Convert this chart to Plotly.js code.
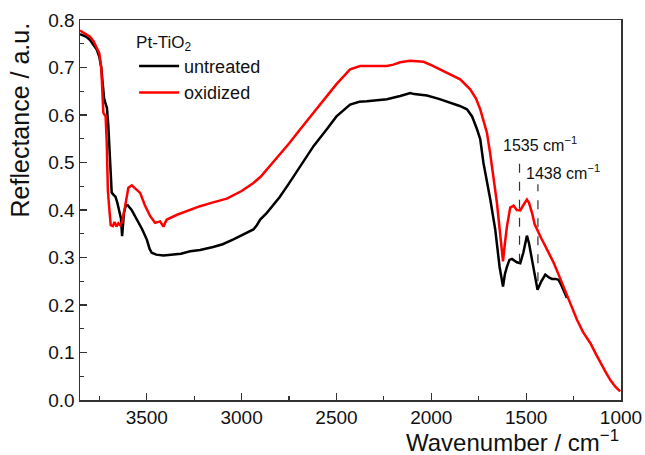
<!DOCTYPE html>
<html>
<head>
<meta charset="utf-8">
<script src="https://cdn.plot.ly/plotly-3.0.1.min.js"></script>
<style>html,body{margin:0;padding:0;background:#fff;}#chart{width:645px;height:455px;}</style>
</head>
<body>
<div id="chart"></div>
<script>
// Wavenumber (cm^-1) and reflectance values
const untreatedX = [3852,3820,3799,3780,3764,3750,3740,3732,3725,3718,3710,3703,3697,3690,3685,3675,3665,3655,3645,3636,3630,3626,3620,3610,3600,3580,3553,3525,3500,3485,3474,3450,3412,3380,3320,3271,3219,3150,3100,3043,3000,2972,2950,2938,2920,2902,2867,2800,2750,2691,2620,2551,2500,2428,2380,2340,2290,2234,2164,2130,2111,2090,2060,2023,1960,1900,1850,1812,1785,1759,1742,1725,1705,1689,1663,1654,1640,1622,1612,1601,1588,1575,1560,1549,1531,1515,1496,1485,1469,1455,1440,1420,1399,1380,1364,1345,1329,1315,1303,1285];
const untreatedY = [0.770,0.765,0.758,0.748,0.738,0.722,0.700,0.665,0.635,0.625,0.615,0.580,0.520,0.470,0.437,0.432,0.428,0.415,0.395,0.382,0.345,0.360,0.395,0.410,0.410,0.400,0.380,0.360,0.338,0.318,0.310,0.306,0.304,0.305,0.308,0.313,0.316,0.322,0.328,0.338,0.347,0.352,0.356,0.359,0.368,0.380,0.394,0.427,0.456,0.492,0.535,0.570,0.597,0.622,0.628,0.629,0.631,0.633,0.640,0.643,0.646,0.644,0.643,0.641,0.634,0.626,0.619,0.612,0.597,0.570,0.549,0.499,0.460,0.422,0.359,0.323,0.280,0.239,0.265,0.281,0.295,0.297,0.292,0.290,0.288,0.310,0.346,0.330,0.295,0.260,0.232,0.250,0.264,0.258,0.255,0.255,0.253,0.242,0.232,0.215];

const oxidizedX = [3852,3820,3799,3780,3764,3750,3740,3735,3729,3722,3717,3711,3705,3697,3690,3679,3670,3660,3650,3640,3630,3620,3605,3597,3579,3560,3535,3510,3482,3456,3430,3420,3412,3400,3394,3340,3271,3219,3150,3078,3000,2938,2900,2867,2800,2750,2691,2620,2551,2500,2428,2375,2300,2234,2200,2164,2111,2070,2041,2000,1953,1900,1848,1795,1765,1742,1707,1690,1672,1654,1645,1635,1622,1612,1601,1584,1566,1549,1531,1515,1496,1485,1469,1455,1443,1420,1408,1380,1355,1330,1303,1270,1232,1200,1162,1130,1109,1080,1056,1030,1004];
const oxidizedY = [0.778,0.770,0.765,0.755,0.742,0.730,0.700,0.660,0.605,0.600,0.598,0.540,0.440,0.400,0.368,0.366,0.375,0.365,0.372,0.368,0.375,0.395,0.430,0.447,0.452,0.445,0.436,0.410,0.387,0.373,0.376,0.370,0.365,0.376,0.380,0.390,0.400,0.408,0.416,0.424,0.440,0.457,0.470,0.485,0.515,0.540,0.570,0.605,0.640,0.665,0.696,0.703,0.703,0.703,0.706,0.711,0.714,0.713,0.712,0.705,0.696,0.686,0.675,0.654,0.635,0.612,0.563,0.520,0.471,0.415,0.380,0.340,0.292,0.330,0.366,0.405,0.409,0.400,0.399,0.410,0.422,0.415,0.394,0.370,0.359,0.340,0.331,0.310,0.289,0.265,0.239,0.205,0.169,0.143,0.120,0.095,0.078,0.058,0.042,0.028,0.018];

const seriesNames = ['untreated', 'oxidized'];
const legendTitle = 'Pt-TiO<sub>2</sub>';
const peakPositions = [1535, 1438];
const peakLabels = ['1535 cm<sup>−1</sup>', '1438 cm<sup>−1</sup>'];
const peakLineTop = [0.513, 0.454];
const peakLineBottom = [0.289, 0.250];
const xTitle = 'Wavenumber / cm<sup>−1</sup>';
const yTitle = 'Reflectance / a.u.';

const FONT = 'Liberation Sans, Arial, sans-serif';
const AX = '#333333';

const traces = [
  {x: untreatedX, y: untreatedY, name: seriesNames[0], type: 'scatter', mode: 'lines',
   line: {color: '#000000', width: 2.5}},
  {x: oxidizedX, y: oxidizedY, name: seriesNames[1], type: 'scatter', mode: 'lines',
   line: {color: '#ff0000', width: 2.5}}
];

const shapes = peakPositions.map((p, i) => ({
  type: 'line', xref: 'x', yref: 'y', x0: p, x1: p, y0: peakLineBottom[i], y1: peakLineTop[i],
  line: {color: '#333333', width: 1.2, dash: 'dash'}
}));

const labelShift = [-19, -14];
const annotations = peakPositions.map((p, i) => ({
  xref: 'x', yref: 'y', x: p, y: peakLineTop[i], xanchor: 'left', yanchor: 'bottom',
  xshift: labelShift[i], yshift: 0,
  text: peakLabels[i], showarrow: false, font: {family: FONT, size: 16, color: '#111'}
}));
annotations.push({
  xref: 'paper', yref: 'paper', x: 1, y: -0.108, xanchor: 'right', yanchor: 'middle',
  text: xTitle, showarrow: false, font: {family: FONT, size: 24, color: '#111'}
});
annotations.push({
  xref: 'paper', yref: 'paper', x: -0.111, y: 1, xanchor: 'center', yanchor: 'top',
  textangle: -90, text: yTitle, showarrow: false, font: {family: FONT, size: 25, color: '#111'}
});

const layout = {
  width: 645, height: 455,
  margin: {l: 80, r: 24, t: 20, b: 55},
  paper_bgcolor: '#ffffff', plot_bgcolor: '#ffffff',
  font: {family: FONT, color: '#111'},
  showlegend: true,
  legend: {
    x: 0.1, y: 0.985, xanchor: 'left', yanchor: 'top',
    bgcolor: 'rgba(0,0,0,0)', borderwidth: 0,
    font: {family: FONT, size: 18, color: '#111'},
    title: {text: legendTitle, font: {family: FONT, size: 17, color: '#111'}},
    itemwidth: 40, tracegroupgap: 0
  },
  xaxis: {
    range: [3852, 1000], autorange: false,
    tick0: 1000, dtick: 500, ticks: 'inside', ticklen: 7, tickwidth: 1.2, tickcolor: AX,
    minor: {dtick: 250, tick0: 1000, ticks: 'inside', ticklen: 4, tickwidth: 1.2, tickcolor: AX},
    showline: true, linecolor: AX, linewidth: 1.5, mirror: true,
    showgrid: false, zeroline: false,
    tickfont: {family: FONT, size: 19, color: '#111'}
  },
  yaxis: {
    range: [0, 0.8], autorange: false,
    tick0: 0, dtick: 0.1, tickformat: '.1f', ticks: 'inside', ticklen: 7, tickwidth: 1.2, tickcolor: AX,
    minor: {dtick: 0.05, tick0: 0, ticks: 'inside', ticklen: 4, tickwidth: 1.2, tickcolor: AX},
    showline: true, linecolor: AX, linewidth: 1.5, mirror: true,
    showgrid: false, zeroline: false,
    tickfont: {family: FONT, size: 19, color: '#111'}
  },
  shapes: shapes,
  annotations: annotations
};

Plotly.newPlot('chart', traces, layout, {displayModeBar: false, staticPlot: true});
</script>
</body>
</html>
